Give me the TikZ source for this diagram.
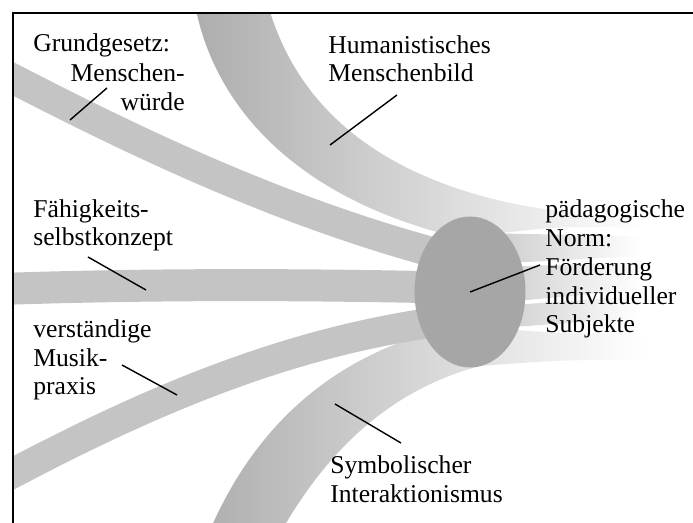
\documentclass[tikz,border=0pt]{standalone}
\usepackage{fontspec}
\setmainfont{Liberation Serif}
\usetikzlibrary{shapes.geometric}
\tikzset{%
	band/.style    = {line width=0.6cm, draw=black!23},
	fadeout/.style = {left color=black!23, right color=white},
	txt/.style     = {anchor=base west, inner sep=0pt, align=left, font=\fontsize{14.6}{16.5}\selectfont},
	pointer/.style = {line width=0.8pt},
}
\begin{document}
\begin{tikzpicture}[x=0.02cm,y=-0.02cm]
	\useasboundingbox (0,0) rectangle (693,523);
	\begin{scope}
		\clip (13,13) rectangle (693,523);
		% Humanistisches Menschenbild
		\shade[left color=black!32, right color=white] (268,5) .. controls (295,100) and (370,175) .. (520,205) .. controls (580,215) .. (645,218) -- (645,228) .. controls (560,226) .. (460,238) .. controls (300,200) and (215,110) .. (195,5) -- cycle;
		% Symbolischer Interaktionismus
		\shade[left color=black!31, right color=white] (210,530) .. controls (258,420) and (340,350) .. (460,325) .. controls (560,334) .. (645,332) -- (645,360) .. controls (560,360) .. (480,366) .. controls (390,390) and (328,450) .. (282,530) -- cycle;
		% faded continuation right of the ellipse
		\foreach \a/\b/\c/\d in {233/236/256/265, 268/262/290/305, 308/296/318/330}
			\shade[fadeout] (470,\a) -- (640,\b) -- (640,\c) -- (470,\d) -- cycle;
		% bands from the left
		\draw[band] (0,72) .. controls (150,150) and (300,220) .. (470,262);
		\draw[band, line width=0.64cm] (0,289) .. controls (150,284) and (300,284) .. (470,288);
		\draw[band] (0,480) .. controls (150,400) and (300,335) .. (470,318);
	\end{scope}
	\draw[line width=1.1pt] (13,523) -- (13,13) -- (693,13);  % frame
	\node[ellipse, fill=black!35, minimum width=2.22cm, minimum height=3.02cm, inner sep=0pt] (ell) at (470,292) {};
	% texts (anchored at the baseline of the last line)
	\node[txt] (gg) at (33,52) {Grundgesetz:};
	\node[txt, anchor=base east, align=right] (mw) at (185,110.5) {Menschen-\\würde};
	\node[txt] (hum) at (328,82) {Humanistisches\\Menschenbild};
	\node[txt] (fsk) at (33,246) {Fähigkeits-\\selbstkonzept};
	\node[txt] (vmp) at (33,395) {verständige\\Musik-\\praxis};
	\node[txt] (norm) at (545,333) {pädagogische\\Norm:\\Förderung\\individueller\\Subjekte};
	\node[txt] (si) at (330,502) {Symbolischer\\Interaktionismus};
	% pointers
	\coordinate (mw-a) at (107,88);   \coordinate (mw-b) at (70,120);
	\coordinate (hum-a) at (397,95);  \coordinate (hum-b) at (330,145);
	\coordinate (fsk-a) at (88,257);  \coordinate (fsk-b) at (146,290);
	\coordinate (vmp-a) at (122,365); \coordinate (vmp-b) at (177,395);
	\coordinate (si-a) at (401,443);  \coordinate (si-b) at (335,404);
	\coordinate (norm-a) at (540,265);
	\draw[pointer] (mw-a) -- (mw-b);
	\draw[pointer] (hum-a) -- (hum-b);
	\draw[pointer] (fsk-a) -- (fsk-b);
	\draw[pointer] (vmp-a) -- (vmp-b);
	\draw[pointer] (si-a) -- (si-b);
	\draw[pointer] (norm-a) -- (ell.center);
\end{tikzpicture}
\end{document}
